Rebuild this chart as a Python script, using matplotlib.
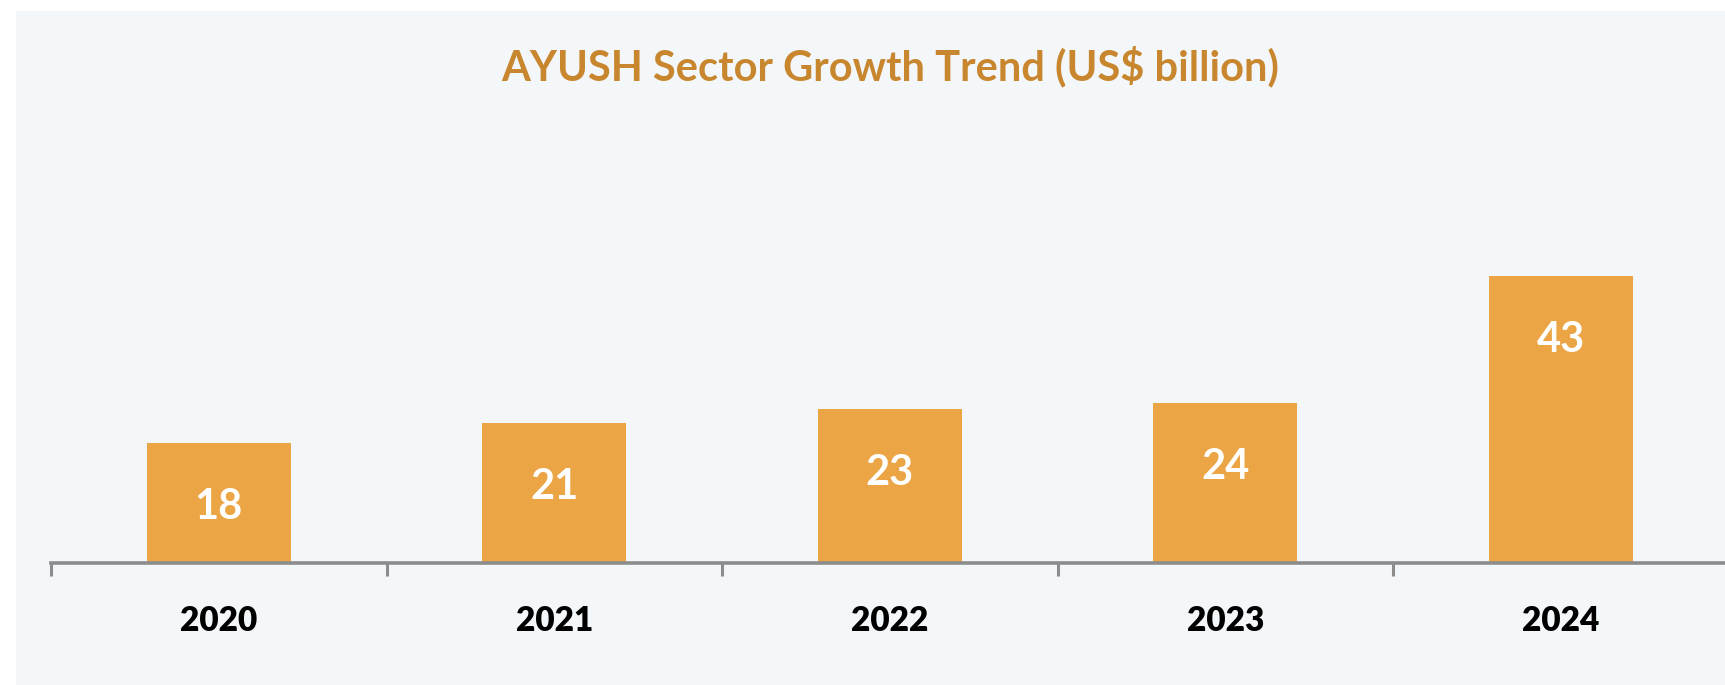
import matplotlib.pyplot as plt
from matplotlib.patches import Rectangle

# Daten
years = ['2020', '2021', '2022', '2023', '2024']
values = [18, 21, 23, 24, 43]
title = 'AYUSH Sector Growth Trend (US$ billion)'

bar_color = '#EBA545'
title_color = '#C8872E'
panel_color = '#F3F7F9'
axis_color = '#8C8C8C'

plt.rcParams['font.family'] = ['Lato', 'DejaVu Sans']

W, H = 1725, 685
fig = plt.figure(figsize=(W / 100, H / 100), dpi=100)
fig.patch.set_facecolor('white')

# hellgrauer Hintergrund
fig.patches.append(Rectangle((16 / W, 0), 1, 1 - 11 / H, transform=fig.transFigure,
                             facecolor=panel_color, edgecolor='none', zorder=-5))

# Achse: Grundlinie bei y=563 px, 43 -> 287 px
px_per_unit = 287 / 43
ymax = 50
ax_h = ymax * px_per_unit
x0, x1 = 51, 51 + 5 * 335.5
ax = fig.add_axes([x0 / W, 1 - 563 / H, (x1 - x0) / W, ax_h / H])
ax.set_facecolor('none')

xs = range(len(years))
ax.bar(xs, values, width=0.43, color=bar_color, zorder=2)

for x, v in zip(xs, values):
    ax.annotate(str(v), (x, v), xytext=(0, -64 * 0.72), textcoords='offset points',
                ha='center', va='center', color='white', fontsize=30, fontweight='bold')

ax.set_xlim(-0.5, len(years) - 0.5)
ax.set_ylim(0, ymax)

for s in ['top', 'right', 'left']:
    ax.spines[s].set_visible(False)
ax.spines['bottom'].set_color(axis_color)
ax.spines['bottom'].set_linewidth(2.6)
ax.spines['bottom'].set_zorder(3)
ax.set_yticks([])

# Striche an den Kategoriegrenzen, Beschriftung in der Mitte
ax.set_xticks([i - 0.5 for i in range(len(years) + 1)])
ax.set_xticklabels([])
ax.tick_params(axis='x', which='major', length=9, width=2.2, color=axis_color)
ax.set_xticks(list(xs), minor=True)
ax.set_xticklabels(years, minor=True, fontsize=24, fontweight='heavy', color='black')
ax.tick_params(axis='x', which='minor', length=0, pad=30)

fig.text((x0 + x1) / 2 / W, 1 - 66 / H, title, ha='center', va='center',
         color=title_color, fontsize=30, fontweight='bold')

fig.savefig('out.png', dpi=100)
